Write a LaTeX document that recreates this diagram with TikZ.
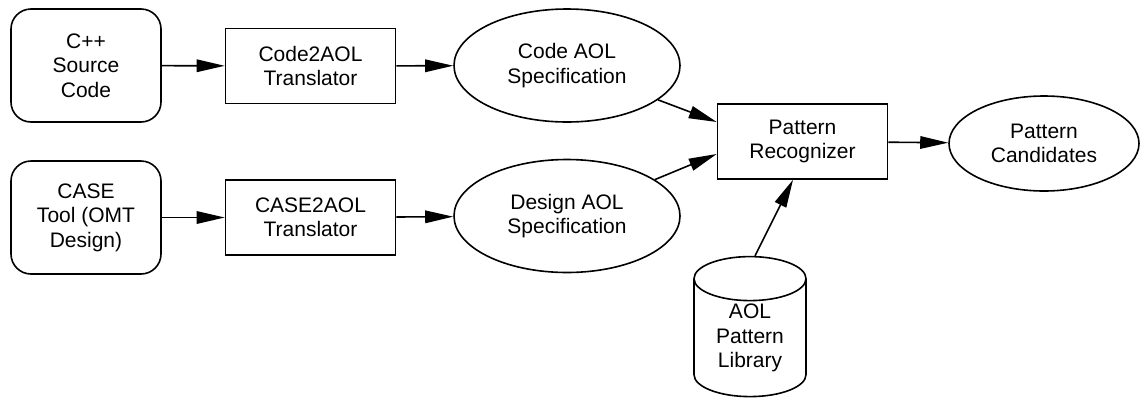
\documentclass[tikz,border=0pt]{standalone}
\usepackage{fontspec}
\setmainfont{Liberation Sans}
\usetikzlibrary{positioning,arrows.meta,shapes.geometric}

\begin{document}
\begin{tikzpicture}[
    x=1pt, y=-1pt,
    >={Triangle[length=28pt,width=12.5pt]},
    every node/.style={font=\fontsize{21}{24.5}\selectfont, align=center, inner sep=0pt, line width=1.6pt},
    tool/.style={draw, rounded corners=20pt, minimum width=150pt, minimum height=113pt},
    proc/.style={draw, minimum width=170pt, minimum height=75pt},
    spec/.style={draw, ellipse, minimum width=226pt, minimum height=113pt},
    store/.style={draw, cylinder, shape border rotate=90, aspect=0.65, minimum width=112pt, minimum height=140pt},
    flow/.style={->, line width=1.6pt},
]
  \useasboundingbox (0,0) rectangle (1141,397);

  % ---------------- inputs ----------------
  \node[tool] (src)  at (86, 65.5)  {C++\\Source\\Code};
  \node[tool] (case) at (86, 217.5) {CASE\\Tool (OMT\\Design)};

  % ---------------- translators ----------------
  \node[proc] (c2a) at (310.5, 66)    {Code2AOL\\Translator};
  \node[proc] (k2a) at (310.5, 217.5) {CASE2AOL\\Translator};

  % ---------------- AOL specifications ----------------
  \node[spec] (codeSpec)   at (567, 65.5) {Code AOL\\Specification};
  \node[spec] (designSpec) at (567, 216)  {Design AOL\\Specification};

  % ---------------- recognizer, library, output ----------------
  \node[proc] (rec) at (802.5, 141.5) {Pattern\\Recognizer};
  \node[store] (lib) at (750, 338) {AOL\\Pattern\\Library};
  \node[draw, ellipse, minimum width=190pt, minimum height=95pt] (cand) at (1044, 143.5) {Pattern\\Candidates};

  % ---------------- connectors ----------------
  \draw[flow] (src) -- (c2a);
  \draw[flow] (case) -- (k2a);
  \draw[flow] (c2a) -- (codeSpec);
  \draw[flow] (k2a) -- (designSpec);
  \draw[flow] (codeSpec) -- ([yshift=19.5pt]rec.west);
  \draw[flow] (designSpec) -- ([yshift=-12.5pt]rec.west);
  \draw[flow] ([xshift=5pt]lib.north) -- ([xshift=-9.5pt]rec.south);
  \draw[flow] (rec) -- (cand);
\end{tikzpicture}
\end{document}
